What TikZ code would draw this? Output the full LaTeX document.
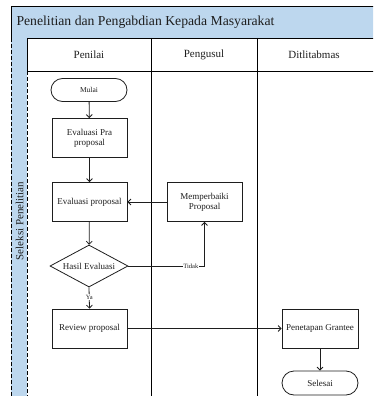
\documentclass[tikz,border=0pt]{standalone}
\usepackage{fontspec}
\setmainfont{Liberation Serif}
\usetikzlibrary{shapes.geometric,arrows.meta}
\definecolor{laneblue}{RGB}{189,215,238}
\definecolor{inkgray}{RGB}{30,30,30}
\tikzset{
  procbox/.style={draw=inkgray, line width=0.8pt, fill=white, minimum width=75pt,
    minimum height=39pt, align=center, inner sep=1pt, text=inkgray,
    font=\fontsize{9}{10}\selectfont},
  termbox/.style={draw=inkgray, line width=0.8pt, fill=white, minimum width=76pt,
    minimum height=23pt, rounded corners=11.5pt, inner sep=1pt, text=inkgray},
  decbox/.style={draw=inkgray, line width=0.8pt, fill=white, diamond,
    minimum width=78pt, minimum height=42pt, inner sep=0pt},
  flow/.style={draw=inkgray, line width=0.8pt,
    -{Straight Barb[length=3pt,width=6pt]}},
  tag/.style={fill=white, inner sep=0.6pt, text=inkgray,
    font=\fontsize{6.5}{7}\selectfont},
  lanetext/.style={font=\fontsize{11}{12}\selectfont, text=inkgray},
}
\begin{document}
\begin{tikzpicture}[x=1pt,y=-1pt]
\useasboundingbox (0,0) rectangle (373,396);
\clip (0,0) rectangle (373,396);

% pool header band
\fill[laneblue] (11,6) rectangle (380,38);
\draw[line width=0.8pt] (380,6) -- (11,6) -- (11,38) -- (380,38);
\node[anchor=west, font=\fontsize{13.7}{15}\selectfont, text=inkgray] (pool) at (13,22.5)
  {Penelitian dan Pengabdian Kepada Masyarakat};

% vertical lane strip
\fill[laneblue] (11,38) rectangle (27,400);
\draw[line width=0.8pt, dash pattern=on 4pt off 2pt] (11,38) -- (11,400);
\draw[line width=0.8pt, dash pattern=on 4pt off 2pt] (27,71) -- (27,400);
\draw[line width=0.8pt] (27,38) -- (27,71);
\node[lanetext, rotate=90] (lane) at (19.5,221) {Seleksi Penelitian};

% column header row and dividers
\draw[line width=0.8pt] (27,71) -- (380,71);
\draw[line width=0.8pt] (151,38) -- (151,400);
\draw[line width=0.8pt] (257,38) -- (257,400);
\node[lanetext] (c1) at (89,55) {Penilai};
\node[lanetext] (c2) at (204,55) {Pengusul};
\node[lanetext] (c3) at (314,55) {Ditlitabmas};

% flow nodes
\node[termbox, font=\fontsize{7.5}{8}\selectfont] (mulai) at (89,90) {Mulai};
\node[procbox] (pra) at (89.5,138) {Evaluasi Pra\\proposal};
\node[procbox] (eval) at (89.5,202) {Evaluasi proposal};
\node[procbox] (fix) at (204.5,202) {Memperbaiki\\Proposal};
\node[decbox] (hasil) at (89,266) {};
\node[text=inkgray, font=\fontsize{9}{10}\selectfont] (hasiltext) at (hasil) {Hasil Evaluasi};
\node[procbox] (review) at (89.5,328.5) {Review proposal};
\node[procbox, minimum width=76pt] (grant) at (320,328.5) {Penetapan Grantee};
\node[termbox, minimum height=24pt, rounded corners=12pt, font=\fontsize{9}{10}\selectfont] (selesai) at (320,383) {Selesai};

% connectors
\draw[flow] (mulai) -- (pra);
\draw[flow] (pra) -- (eval);
\draw[flow] (eval) -- (hasil);
\draw[flow] (fix) -- (eval);
\draw[flow] (hasil.east) -| node[tag, pos=0.41] {Tidak} (fix.south);
\draw[flow] (hasil.south) -- node[tag, pos=0.45] {Ya} (review.north);
\draw[flow] (review) -- (grant);
\draw[flow] (grant) -- (selesai);
\end{tikzpicture}
\end{document}
